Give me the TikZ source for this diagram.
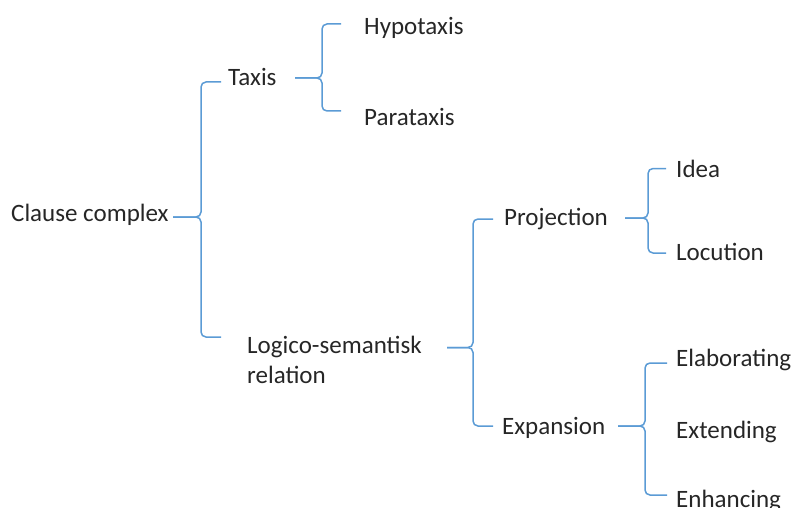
\documentclass[tikz,border=0pt]{standalone}
\usepackage{fontspec}
\setmainfont{Carlito}
\definecolor{brblue}{HTML}{5B9BD5}
\definecolor{txt}{HTML}{262626}
\tikzset{
  lbl/.style={anchor=base west, inner sep=0pt, text height=16pt, text depth=0pt, text=txt, font=\fontsize{25}{30}\selectfont},
  br/.style={draw=brblue, line width=1.5pt, rounded corners=5pt},
}
\begin{document}
\begin{tikzpicture}[x=1pt,y=-1pt]
\useasboundingbox (0,0) rectangle (792,508);
% labels
\node[lbl] (clause) at (11,221) {Clause complex};
\node[lbl] (taxis) at (228,86) {Taxis};
\node[lbl] (hypo) at (364,35) {Hypotaxis};
\node[lbl] (para) at (364,126) {Parataxis};
\node[lbl] (logico) at (247,353) {Logico-semantisk};
\node[lbl] (logico2) at (247,383) {relation};
\node[lbl] (proj) at (504,225) {Projection};
\node[lbl] (idea) at (676,177) {Idea};
\node[lbl] (locu) at (676,260) {Locution};
\node[lbl] (expa) at (502,434) {Expansion};
\node[lbl] (elab) at (676,366) {Elaborating};
\node[lbl] (exte) at (676,438) {Extending};
\node[lbl] (enha) at (676,507) {Enhancing};
% brace coordinates
\coordinate (c1s) at (173,217);
\coordinate (c1t) at (221,82);
\coordinate (c1b) at (221,337);
\coordinate (c2s) at (295,78);
\coordinate (c2t) at (341,24);
\coordinate (c2b) at (341,111);
\coordinate (c3s) at (447,347.5);
\coordinate (c3t) at (493,219);
\coordinate (c3b) at (493,426);
\coordinate (c4s) at (625,218);
\coordinate (c4t) at (666,168.5);
\coordinate (c4b) at (666,253);
\coordinate (c5s) at (618,426);
\coordinate (c5t) at (667,363);
\coordinate (c5b) at (667,495);
% braces
\draw[br] (c1s) -- (201,217) -- (201,82) -- (c1t);
\draw[br] (c1s) -- (201,217) -- (201,337) -- (c1b);
\draw[br] (c2s) -- (322,78) -- (322,24) -- (c2t);
\draw[br] (c2s) -- (322,78) -- (322,111) -- (c2b);
\draw[br] (c3s) -- (473,347.5) -- (473,219) -- (c3t);
\draw[br] (c3s) -- (473,347.5) -- (473,426) -- (c3b);
\draw[br] (c4s) -- (648,218) -- (648,168.5) -- (c4t);
\draw[br] (c4s) -- (648,218) -- (648,253) -- (c4b);
\draw[br] (c5s) -- (645,426) -- (645,363) -- (c5t);
\draw[br] (c5s) -- (645,426) -- (645,495) -- (c5b);
\end{tikzpicture}
\end{document}
